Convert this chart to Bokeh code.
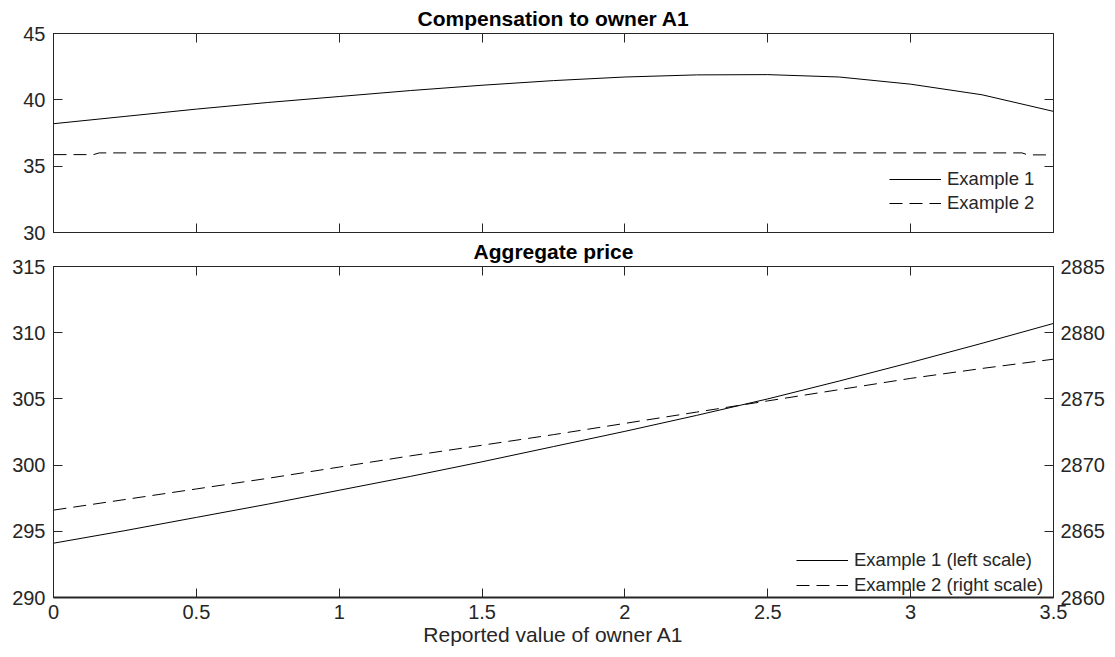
from bokeh.plotting import figure
from bokeh.models import (Range1d, LinearAxis, FixedTicker, NumeralTickFormatter,
                          CustomJSTickFormatter, Legend, LegendItem)
from bokeh.layouts import column
from bokeh.embed import file_html
from bokeh.resources import INLINE

FONT = "Liberation Sans"
AX = "#262626"

# ---- data: compensation to owner A1 ----
comp_x = [0, 0.25, 0.5, 0.75, 1.0, 1.25, 1.5, 1.75, 2.0, 2.25, 2.5, 2.75, 3.0, 3.25, 3.5]
comp_ex1 = [38.2, 38.75, 39.3, 39.8, 40.25, 40.7, 41.1, 41.45, 41.72, 41.88, 41.9, 41.72, 41.18, 40.38, 39.13]
comp2_x = [0, 0.14, 0.16, 3.39, 3.41, 3.5]
comp_ex2 = [35.87, 35.87, 36.0, 36.0, 35.85, 35.85]

# ---- data: aggregate price ----
price_x = [0, 0.25, 0.5, 0.75, 1.0, 1.25, 1.5, 1.75, 2.0, 2.25, 2.5, 2.75, 3.0, 3.25, 3.5]
price_ex1 = [294.1, 295.05, 296.05, 297.05, 298.1, 299.15, 300.25, 301.4, 302.55, 303.75,
             305.0, 306.35, 307.75, 309.2, 310.7]          # left scale
price_ex2 = [2866.6, 2867.4, 2868.2, 2869.0, 2869.85, 2870.7, 2871.5, 2872.3, 2873.15, 2874.0,
             2874.85, 2875.7, 2876.55, 2877.3, 2878.0]      # right scale

x_ticks = [0, 0.5, 1, 1.5, 2, 2.5, 3, 3.5]
comp_ticks = [30, 35, 40, 45]
price_ticks = [290, 295, 300, 305, 310, 315]
price2_ticks = [2860, 2865, 2870, 2875, 2880, 2885]

TICK_FS = "20px"
LEG_FS = "18.5px"
TITLE_FS = "21px"
XLABEL_FS = "21px"
DASH = "13 7"


def style_axis(ax, ticks, labels=True, width=1):
    ax.ticker = FixedTicker(ticks=ticks)
    ax.major_tick_in = 9
    ax.major_tick_out = 0
    ax.minor_tick_line_color = None
    ax.axis_line_color = AX
    ax.axis_line_width = width
    ax.major_tick_line_color = AX
    ax.major_label_text_font = FONT
    ax.major_label_text_color = AX
    ax.major_label_text_font_size = TICK_FS
    if labels:
        ax.formatter = NumeralTickFormatter(format="0.[0]")
        ax.major_label_standoff = 6
    else:
        ax.formatter = CustomJSTickFormatter(code="return '';")
        ax.major_label_standoff = 0


def base(height, yr, top, bottom, title):
    p = figure(width=1110, height=height, x_range=Range1d(0, 3.5), y_range=yr,
               output_backend="svg", toolbar_location=None,
               min_border_left=53, min_border_right=57,
               min_border_top=top, min_border_bottom=bottom, title=title)
    p.xgrid.visible = False
    p.ygrid.visible = False
    p.outline_line_color = AX
    p.background_fill_color = "white"
    p.border_fill_color = "white"
    p.title.align = "center"
    p.title.text_font = FONT
    p.title.text_font_style = "bold"
    p.title.text_font_size = TITLE_FS
    p.title.text_color = "black"
    p.title.standoff = 8
    return p


# ---------- top panel ----------
p1 = base(252, Range1d(30, 45), 32, 20, "Compensation to owner A1")
style_axis(p1.xaxis[0], x_ticks, labels=False)
style_axis(p1.yaxis[0], comp_ticks, labels=True)
p1.yaxis[0].major_label_standoff = 8
top1 = LinearAxis()
style_axis(top1, x_ticks, labels=False)
p1.add_layout(top1, "above")
right1 = LinearAxis()
style_axis(right1, comp_ticks, labels=False)
p1.add_layout(right1, "right")

r11 = p1.line(comp_x, comp_ex1, line_color="black", line_width=1)
r12 = p1.line(comp2_x, comp_ex2, line_color="black", line_width=1, line_dash=DASH)

leg1 = Legend(items=[LegendItem(label="Example 1", renderers=[r11]),
                     LegendItem(label="Example 2", renderers=[r12])],
              location=(836, 18), border_line_color=None, background_fill_alpha=0,
              label_text_font=FONT, label_text_font_size=LEG_FS, label_text_color=AX,
              glyph_width=52, glyph_height=20, label_height=20, label_standoff=6,
              spacing=2, padding=0, margin=0)
p1.add_layout(leg1)

# ---------- bottom panel ----------
p2 = base(419, Range1d(290, 315), 32, 55, "Aggregate price")
p2.margin = (-19, 0, 0, 0)
p2.border_fill_alpha = 0
p2.extra_y_ranges = {"right": Range1d(2860, 2885)}
style_axis(p2.xaxis[0], x_ticks, labels=True, width=2)
p2.xaxis[0].major_label_standoff = 7
p2.xaxis[0].axis_label = "Reported value of owner A1"
p2.xaxis[0].axis_label_text_font = FONT
p2.xaxis[0].axis_label_text_font_style = "normal"
p2.xaxis[0].axis_label_text_font_size = XLABEL_FS
p2.xaxis[0].axis_label_text_color = AX
p2.xaxis[0].axis_label_standoff = 1
style_axis(p2.yaxis[0], price_ticks, labels=True)
p2.yaxis[0].major_label_standoff = 8
top2 = LinearAxis()
style_axis(top2, x_ticks, labels=False)
p2.add_layout(top2, "above")
right2 = LinearAxis(y_range_name="right")
style_axis(right2, price2_ticks, labels=True)
right2.major_label_standoff = 7
p2.add_layout(right2, "right")

r21 = p2.line(price_x, price_ex1, line_color="black", line_width=1)
r22 = p2.line(price_x, price_ex2, y_range_name="right", line_color="black", line_width=1,
              line_dash=DASH)

leg2 = Legend(items=[LegendItem(label="Example 1 (left scale)", renderers=[r21]),
                     LegendItem(label="Example 2 (right scale)", renderers=[r22])],
              location=(743, 1), border_line_color=None, background_fill_alpha=0,
              label_text_font=FONT, label_text_font_size=LEG_FS, label_text_color=AX,
              glyph_width=52, glyph_height=14, label_height=14, label_standoff=6,
              spacing=3, padding=0, margin=0)
p2.add_layout(leg2)

layout = column(p1, p2, spacing=0)
open("out.html", "w").write(file_html(layout, INLINE))
